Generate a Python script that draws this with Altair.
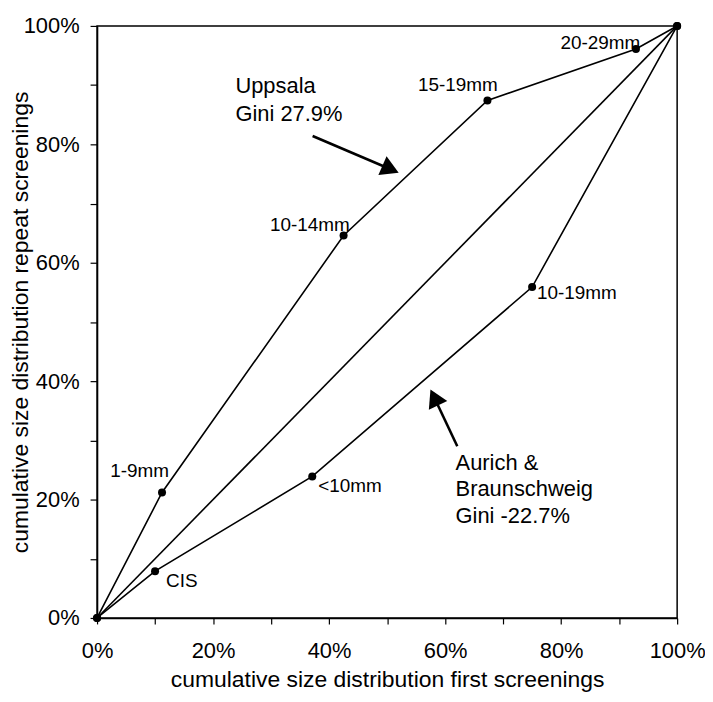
import altair as alt
import pandas as pd

# Lorenz-type curves (fractions 0..1)
uppsala_x = [0.0, 0.112, 0.425, 0.673, 0.929, 1.0]
uppsala_y = [0.0, 0.212, 0.646, 0.874, 0.961, 1.0]
aurich_x = [0.0, 0.100, 0.371, 0.750, 1.0]
aurich_y = [0.0, 0.079, 0.239, 0.559, 1.0]
equal_x = [0.0, 1.0]
equal_y = [0.0, 1.0]

# size-class labels and their positions
label_text = ["1-9mm", "10-14mm", "15-19mm", "20-29mm", "CIS", "<10mm", "10-19mm"]
label_x = [0.0735, 0.367, 0.622, 0.8675, 0.146, 0.436, 0.827]
label_y = [0.2474, 0.663, 0.901, 0.971, 0.062, 0.223, 0.548]

# annotation text lines
note_text = ["Uppsala", "Gini 27.9%", "Aurich &", "Braunschweig", "Gini -22.7%"]
note_x = [0.2385, 0.2385, 0.618, 0.618, 0.618]
note_y = [0.898, 0.852, 0.2625, 0.2176, 0.173]

# arrows: start, head centre, head angle
arrow_x1 = [0.3716, 0.621]
arrow_y1 = [0.814, 0.290]
arrow_x2 = [0.506, 0.5813]
arrow_y2 = [0.758, 0.3724]
arrow_angle = [113.5, 334.5]

FONT = "Liberation Sans"

rows = []
for i, (x, y) in enumerate(zip(uppsala_x, uppsala_y)):
    rows.append({"series": "Uppsala", "o": i, "x": x, "y": y})
for i, (x, y) in enumerate(zip(aurich_x, aurich_y)):
    rows.append({"series": "Aurich", "o": i, "x": x, "y": y})
for i, (x, y) in enumerate(zip(equal_x, equal_y)):
    rows.append({"series": "Equal", "o": i, "x": x, "y": y})
curves = pd.DataFrame(rows)
pts = curves[curves.series != "Equal"]

labels = pd.DataFrame({"t": label_text, "x": label_x, "y": label_y})
notes = pd.DataFrame({"t": note_text, "x": note_x, "y": note_y})
arrows = pd.DataFrame({"x": arrow_x1, "y": arrow_y1, "x2": arrow_x2, "y2": arrow_y2, "a": arrow_angle})

ticks = [i / 10 for i in range(11)]
xscale = alt.Scale(domain=[0, 1], nice=False, zero=False)
yscale = alt.Scale(domain=[0, 1], nice=False, zero=False)

lab_expr = "round(datum.value*10) % 2 == 0 ? format(datum.value, '.0%') : ''"

W, H = 583, 595

x_enc = alt.X("x:Q", scale=xscale, axis=alt.Axis(
    values=ticks, labelExpr=lab_expr, grid=False, tickSize=6, tickColor="black",
    domainColor="black", domainWidth=1.5, tickWidth=1.2, labelFontSize=22, labelFont=FONT,
    labelColor="black", labelPadding=17, title="cumulative size distribution first screenings",
    titleFont=FONT, titleFontSize=23, titleFontWeight="normal", titleColor="black",
    titleBaseline="alphabetic", titleY=69, titleX=W / 2, labelFlush=False))
y_enc = alt.Y("y:Q", scale=yscale, axis=alt.Axis(
    values=ticks, labelExpr=lab_expr, grid=False, tickSize=7, tickColor="black",
    domainColor="black", domainWidth=1.5, tickWidth=1.2, labelFontSize=22, labelFont=FONT,
    labelColor="black", labelPadding=11, title="cumulative size distribution repeat screenings",
    titleFont=FONT, titleFontSize=23, titleFontWeight="normal", titleColor="black",
    titleBaseline="alphabetic", titleX=-70, titleY=H / 2, labelFlush=False))

lines = alt.Chart(curves).mark_line(color="black", strokeWidth=1.6).encode(
    x=x_enc, y=y_enc, detail="series:N", order="o:Q")

dots = alt.Chart(pts).mark_circle(color="black", size=65, opacity=1).encode(
    x="x:Q", y="y:Q")

lab_layer = alt.Chart(labels).mark_text(font=FONT, fontSize=19, color="black",
                                        align="center", baseline="middle").encode(
    x="x:Q", y="y:Q", text="t:N")

note_layer = alt.Chart(notes).mark_text(font=FONT, fontSize=22, color="black",
                                        align="left", baseline="middle").encode(
    x="x:Q", y="y:Q", text="t:N")

shafts = alt.Chart(arrows).mark_rule(color="black", strokeWidth=2.6).encode(
    x="x:Q", y="y:Q", x2="x2:Q", y2="y2:Q")

heads = alt.Chart(arrows).mark_point(shape="triangle-up", filled=True, color="black",
                                     size=420, opacity=1).encode(
    x=alt.X("x2:Q"), y=alt.Y("y2:Q"), angle=alt.Angle("a:Q", scale=None))

chart = alt.layer(lines, dots, shafts, heads, lab_layer, note_layer).properties(
    width=W, height=H,
    autosize=alt.AutoSizeParams(type="none"),
    padding={"left": 89.5, "top": 16.3, "right": 28, "bottom": 75}
).configure_view(stroke="black", strokeWidth=1.5)

chart.save("out.html", embed_options={"renderer": "svg", "actions": False})
